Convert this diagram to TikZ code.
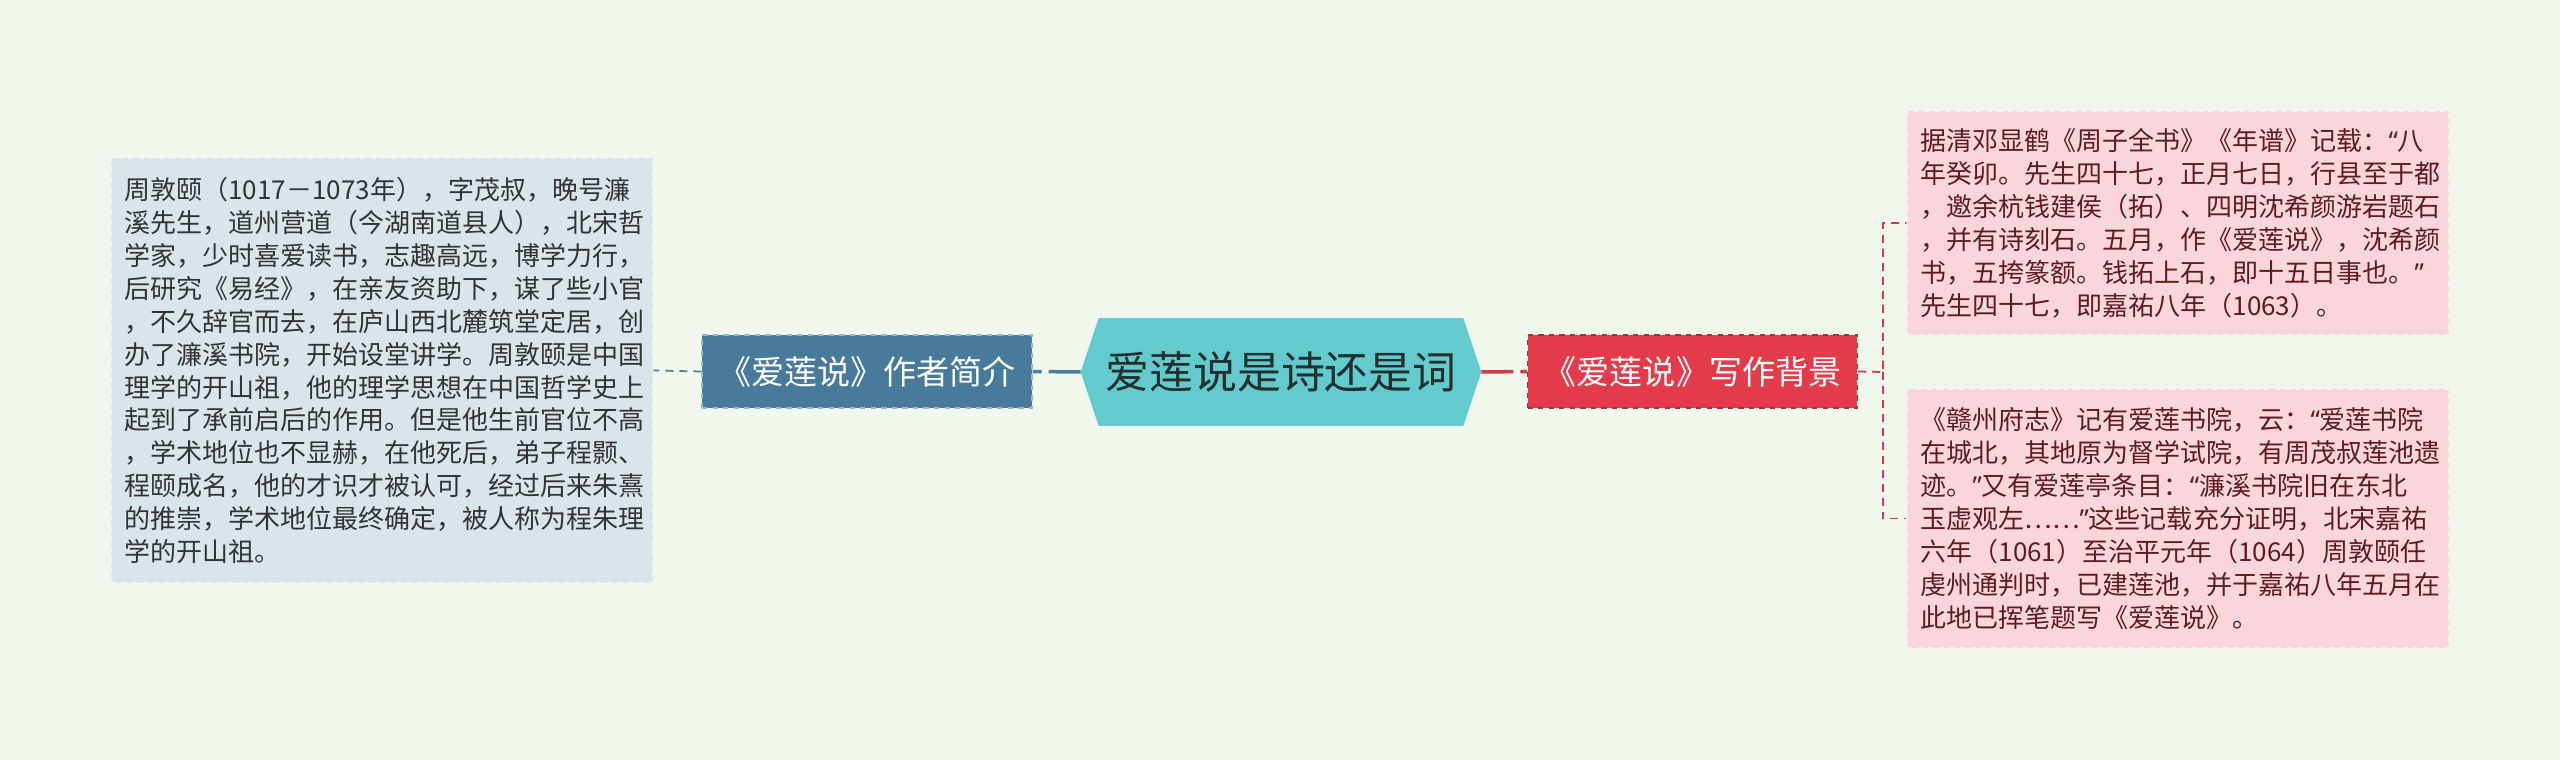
\documentclass[tikz,border=0pt]{standalone}
\usepackage{fontspec}
\newfontfamily\cjk{Noto Sans CJK SC}
\newfontfamily\latinq{Noto Sans}
\newcommand\openq{{\latinq “}}
\newcommand\closeq{{\latinq ”}}
\usetikzlibrary{backgrounds}

\definecolor{bgcol}{HTML}{F0F8EE}
\definecolor{topicfill}{HTML}{63CBCD}
\definecolor{topictext}{HTML}{22302F}
\definecolor{bluefill}{HTML}{477A9B}
\definecolor{blueline}{HTML}{4A7EA0}
\definecolor{blueleaf}{HTML}{D9E4EB}
\definecolor{redfill}{HTML}{E43B4B}
\definecolor{redline}{HTML}{D93745}
\definecolor{redleaf}{HTML}{FAD6DC}
\definecolor{redtext}{HTML}{5C1C22}

\begin{document}
\begin{tikzpicture}[x=0.02cm,y=-0.02cm,
        topic/.style={minimum width=8cm,minimum height=2.14cm,inner sep=0pt,
            text=topictext,font=\cjk\fontsize{25pt}{30pt}\selectfont},
        branch/.style={draw,dashed,line width=0.8pt,minimum width=6.6cm,minimum height=1.46cm,
            inner sep=0pt,text=white,font=\cjk\fontsize{18.8pt}{22pt}\selectfont},
        leaf/.style={draw,dashed,line width=0.8pt,align=left,text width=10.3cm,
            inner xsep=0.27cm,inner ysep=0pt,font=\cjk\fontsize{14.8pt}{18.76pt}\selectfont},
        link/.style={line width=2pt,dash pattern=on 0.64cm off 0.14cm on 0.3cm},
        sublink/.style={line width=1pt,dash pattern=on 0.16cm off 0.12cm}]

    % Topic
    \node[topic] (c) at (1281,372) {爱莲说是诗还是词};

    % Branches
    \node[branch,fill=bluefill,draw=bluefill!55!white] (lb) at (867,371.5) {《爱莲说》作者简介};
    \node[branch,fill=redfill,draw=redfill!75!black] (rb) at (1692.5,371.5) {《爱莲说》写作背景};

    % Leaves
    \node[leaf,fill=blueleaf,draw=blueleaf!40!white,text=black!80,minimum height=8.5cm] (author) at (382,370.5) {%
        周敦颐（1017－1073年），字茂叔，晚号濂\\
        溪先生，道州营道（今湖南道县人），北宋哲\\
        学家，少时喜爱读书，志趣高远，博学力行，\\
        后研究《易经》，在亲友资助下，谋了些小官\\
        ，不久辞官而去，在庐山西北麓筑堂定居，创\\
        办了濂溪书院，开始设堂讲学。周敦颐是中国\\
        理学的开山祖，他的理学思想在中国哲学史上\\
        起到了承前启后的作用。但是他生前官位不高\\
        ，学术地位也不显赫，在他死后，弟子程颢、\\
        程颐成名，他的才识才被认可，经过后来朱熹\\
        的推崇，学术地位最终确定，被人称为程朱理\\
        学的开山祖。};
    \node[leaf,fill=redleaf,draw=redleaf!40!white,text=redtext,minimum height=4.48cm] (record) at (2178,223) {%
        据清邓显鹤《周子全书》《年谱》记载：\openq 八\\
        年癸卯。先生四十七，正月七日，行县至于都\\
        ，邀余杭钱建侯（拓）、四明沈希颜游岩题石\\
        ，并有诗刻石。五月，作《爱莲说》，沈希颜\\
        书，五挎篆额。钱拓上石，即十五日事也。\closeq\\
        先生四十七，即嘉祐八年（1063）。};
    \node[leaf,fill=redleaf,draw=redleaf!40!white,text=redtext,minimum height=5.18cm] (gazette) at (2178,518.5) {%
        《赣州府志》记有爱莲书院，云：\openq 爱莲书院\\
        在城北，其地原为督学试院，有周茂叔莲池遗\\
        迹。\closeq 又有爱莲亭条目：\openq 濂溪书院旧在东北\\
        玉虚观左……\closeq 这些记载充分证明，北宋嘉祐\\
        六年（1061）至治平元年（1064）周敦颐任\\
        虔州通判时，已建莲池，并于嘉祐八年五月在\\
        此地已挥笔题写《爱莲说》。};

    % Background and topic shape
    \begin{scope}[on background layer]
        \fill[bgcol] (0,0) rectangle (2560,760);
        \fill[topicfill] (c.west) -- ([xshift=0.36cm]c.north west) -- ([xshift=-0.36cm]c.north east)
            -- (c.east) -- ([xshift=-0.36cm]c.south east) -- ([xshift=0.36cm]c.south west) -- cycle;
    \end{scope}

    % Edges
    \draw[link,blueline] (c.west) -- (lb.east);
    \draw[link,redline] (c.east) -- (rb.west);
    \draw[sublink,blueline] (lb.west) -- (author.east);
    \coordinate (fork) at (1883,372);
    \draw[sublink,redline] (rb.east) -- (fork) |- (record.west);
    \draw[sublink,redline] (fork) |- (gazette.west);
    \end{tikzpicture}
\end{document}
